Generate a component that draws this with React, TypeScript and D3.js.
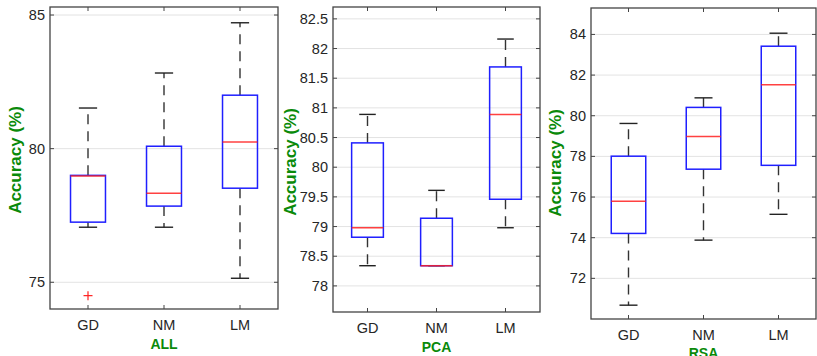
import React from "react";
import * as d3 from "d3";

const categories = ["GD", "NM", "LM"];

// Panel "ALL"
const allUpper = [81.52, 82.83, 84.71];
const allQ3 = [79.0, 80.09, 82.0];
const allMedian = [78.98, 78.33, 80.25];
const allQ1 = [77.25, 77.85, 78.52];
const allLower = [77.06, 77.06, 75.15];
const allOutliers = [[74.5], [], []];
const allTicks = [75, 80, 85];

// Panel "PCA"
const pcaUpper = [80.89, 79.61, 82.16];
const pcaQ3 = [80.41, 79.14, 81.69];
const pcaMedian = [78.98, 78.34, 80.89];
const pcaQ1 = [78.82, 78.34, 79.46];
const pcaLower = [78.34, 78.34, 78.98];
const pcaOutliers = [[], [], []];
const pcaTicks = [78, 78.5, 79, 79.5, 80, 80.5, 81, 81.5, 82, 82.5];

// Panel "RSA"
const rsaUpper = [79.62, 80.88, 84.06];
const rsaQ3 = [78.01, 80.41, 83.42];
const rsaMedian = [75.79, 78.98, 81.52];
const rsaQ1 = [74.21, 77.37, 77.56];
const rsaLower = [70.68, 73.88, 75.15];
const rsaOutliers = [[], [], []];
const rsaTicks = [72, 74, 76, 78, 80, 82, 84];

const FONT = "'Liberation Sans', Arial, Helvetica, sans-serif";
const GREEN = "#0a8a0a";

type PanelProps = {
  x0: number;
  x1: number;
  y0: number;
  y1: number;
  domain: [number, number];
  ticks: number[];
  upper: number[];
  q3: number[];
  median: number[];
  q1: number[];
  lower: number[];
  outliers: number[][];
  title: string;
  ylabelX: number;
  ylabelY: number;
  tickBaseline: number;
  titleBaseline: number;
};

function Panel(p: PanelProps) {
  const y = d3.scaleLinear().domain(p.domain).range([p.y1, p.y0]);
  const x = d3.scalePoint<string>().domain(categories).range([p.x0, p.x1]).padding(0.5);
  const step = x.step();
  const boxW = step * 0.46;
  const capW = step * 0.24;
  const tl = 4;
  return (
    <g>
      {p.ticks.map((t) => (
        <line key={"g" + t} x1={p.x0} x2={p.x1} y1={y(t)} y2={y(t)} stroke="#e3e3e3" strokeWidth={1} />
      ))}
      {categories.map((c, i) => {
        const cx = x(c)!;
        return (
          <g key={c}>
            <line x1={cx} x2={cx} y1={y(p.q3[i])} y2={y(p.upper[i])} stroke="#333" strokeWidth={1.4} strokeDasharray="10,7" />
            <line x1={cx} x2={cx} y1={y(p.q1[i])} y2={y(p.lower[i])} stroke="#333" strokeWidth={1.4} strokeDasharray="10,7" />
            <line x1={cx - capW / 2} x2={cx + capW / 2} y1={y(p.upper[i])} y2={y(p.upper[i])} stroke="#222" strokeWidth={1.4} />
            <line x1={cx - capW / 2} x2={cx + capW / 2} y1={y(p.lower[i])} y2={y(p.lower[i])} stroke="#222" strokeWidth={1.4} />
            <rect x={cx - boxW / 2} y={y(p.q3[i])} width={boxW} height={Math.max(0, y(p.q1[i]) - y(p.q3[i]))} fill="none" stroke="#1f1fff" strokeWidth={1.5} />
            <line x1={cx - boxW / 2} x2={cx + boxW / 2} y1={y(p.median[i])} y2={y(p.median[i])} stroke="#ff2020" strokeWidth={1.5} opacity={0.85} />
            {p.outliers[i].map((o, k) => (
              <g key={k} stroke="#ff2020" strokeWidth={1.2}>
                <line x1={cx - 4.5} x2={cx + 4.5} y1={y(o)} y2={y(o)} />
                <line x1={cx} x2={cx} y1={y(o) - 4.5} y2={y(o) + 4.5} />
              </g>
            ))}
          </g>
        );
      })}
      <rect x={p.x0} y={p.y0} width={p.x1 - p.x0} height={p.y1 - p.y0} fill="none" stroke="#444" strokeWidth={1.3} />
      {p.ticks.map((t) => (
        <g key={"t" + t}>
          <line x1={p.x0} x2={p.x0 + tl} y1={y(t)} y2={y(t)} stroke="#444" strokeWidth={1} />
          <line x1={p.x1} x2={p.x1 - tl} y1={y(t)} y2={y(t)} stroke="#444" strokeWidth={1} />
          <text x={p.x0 - 5} y={y(t)} dy="0.35em" textAnchor="end" fontSize={14.5} fill="#262626" fontFamily={FONT}>
            {String(t)}
          </text>
        </g>
      ))}
      {categories.map((c) => (
        <g key={"x" + c}>
          <line x1={x(c)} x2={x(c)} y1={p.y1} y2={p.y1 - tl} stroke="#444" strokeWidth={1} />
          <line x1={x(c)} x2={x(c)} y1={p.y0} y2={p.y0 + tl} stroke="#444" strokeWidth={1} />
          <text x={x(c)} y={p.tickBaseline} textAnchor="middle" fontSize={14.5} fill="#262626" fontFamily={FONT}>
            {c}
          </text>
        </g>
      ))}
      <text x={(p.x0 + p.x1) / 2} y={p.titleBaseline} textAnchor="middle" fontSize={14} fontWeight="bold" fill={GREEN} fontFamily={FONT}>
        {p.title}
      </text>
      <text
        transform={`translate(${p.ylabelX},${p.ylabelY}) rotate(-90)`}
        textAnchor="middle"
        dy="0.35em"
        fontSize={17}
        fontWeight="bold"
        fill={GREEN}
        fontFamily={FONT}
      >
        Accuracy (%)
      </text>
    </g>
  );
}

export default function App() {
  return (
    <svg width={817} height={356} style={{ position: "absolute", left: 0, top: 0, background: "#fff" }}>
      <Panel
        x0={50} x1={278} y0={7} y1={309}
        domain={[74.0, 85.3]} ticks={allTicks}
        upper={allUpper} q3={allQ3} median={allMedian} q1={allQ1} lower={allLower} outliers={allOutliers}
        title="ALL" ylabelX={15} ylabelY={160} tickBaseline={330} titleBaseline={349}
      />
      <Panel
        x0={333} x1={540} y0={7} y1={312}
        domain={[77.56, 82.7]} ticks={pcaTicks}
        upper={pcaUpper} q3={pcaQ3} median={pcaMedian} q1={pcaQ1} lower={pcaLower} outliers={pcaOutliers}
        title="PCA" ylabelX={290} ylabelY={162} tickBaseline={333} titleBaseline={352}
      />
      <Panel
        x0={591} x1={816} y0={8} y1={319}
        domain={[70.0, 85.3]} ticks={rsaTicks}
        upper={rsaUpper} q3={rsaQ3} median={rsaMedian} q1={rsaQ1} lower={rsaLower} outliers={rsaOutliers}
        title="RSA" ylabelX={555} ylabelY={163} tickBaseline={340} titleBaseline={358}
      />
    </svg>
  );
}
